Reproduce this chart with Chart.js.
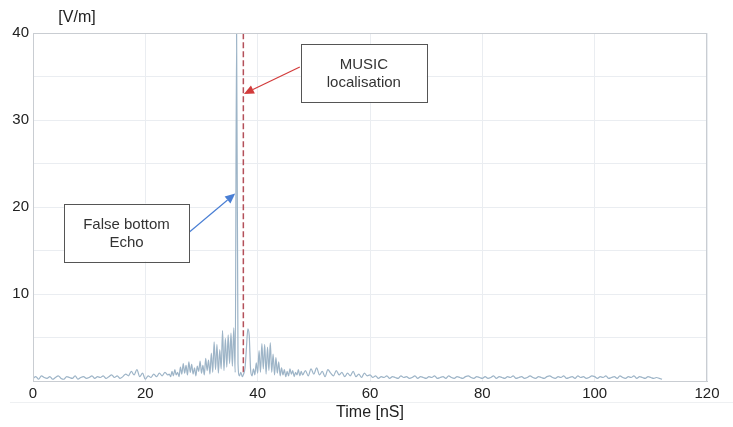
<!DOCTYPE html>
<html>
<head>
<meta charset="utf-8">
<script src="https://cdn.jsdelivr.net/npm/chart.js@4"></script>
<style>
    body { margin: 0; background: #fff; }
    #wrap { width: 733px; height: 427px; }
</style>
</head>
<body>
<div id="wrap"><canvas id="echoChart" width="733" height="427"></canvas></div>
<script>
// Field amplitude [V/m], three sampling zones
const earlyStart = 0, earlyStep = 0.5;
const earlyValues = [
    0.3,0.5,0.2,0.6,0.4,0.3,0.5,0.2,0.4,0.6,0.3,0.2,0.5,0.4,0.3,0.6,0.2,0.4,0.5,0.3,0.4,
    0.6,0.3,0.5,0.4,0.6,0.3,0.5,0.7,0.4,0.6,0.3,0.5,0.8,0.6,1.1,0.7,1.3,0.5,0.9,0.2,
    0.6,0.4,0.8,0.5,0.9,0.6,1.0,0.7
];

const echoStart = 24.25, echoStep = 0.25;
const echoValues = [
    0.8,0.5,1.1,0.6,1.3,0.7,1.0,0.5,
    1.6,0.8,2.0,0.9,1.8,0.7,2.2,1.0,
    1.9,0.8,1.5,0.6,1.7,1.1,2.3,0.9,
    1.8,0.7,2.6,1.2,2.4,0.8,3.2,1.0,
    4.5,1.3,4.2,0.9,3.6,1.4,5.8,1.2,
    4.9,1.6,5.3,2.0,5.5,1.7,6.1,1.0,
    40,2.0,0.6,1.0,0.5,0.8,1.5,3.8,
    6.0,5.2,1.2,0.6,1.4,0.7,2.1,0.9,
    3.5,1.0,4.3,1.4,4.2,0.8,3.9,1.2,
    4.4,1.0,3.1,0.7,2.7,0.9,2.2,0.6,
    1.5,0.7,1.3,0.5,1.1,0.6,1.4,0.8,
    1.2,0.5,1.0,0.7,1.3,0.6,1.1,0.7
];

const lateStart = 48.5, lateStep = 0.5;
const lateValues = [
    1.2,0.6,1.4,0.8,1.5,0.7,1.1,0.5,1.3,0.9,0.6,1.2,0.7,1.0,0.5,0.9,0.6,1.1,0.5,0.8,0.4,0.9,0.6,0.7,
    0.4,0.6,0.3,0.5,0.4,0.6,0.3,0.5,0.4,0.3,0.6,0.4,0.5,0.3,0.4,0.6,0.3,0.5,0.4,0.3,
    0.5,0.4,0.6,0.3,0.4,0.5,0.3,0.6,0.4,0.3,0.5,0.4,0.3,0.5,0.6,0.4,0.3,0.5,0.4,0.3,
    0.5,0.3,0.4,0.6,0.3,0.5,0.4,0.3,0.5,0.4,0.6,0.3,0.4,0.5,0.3,0.4,0.6,0.4,0.3,0.5,
    0.4,0.3,0.5,0.6,0.4,0.3,0.5,0.4,0.6,0.3,0.4,0.5,0.3,0.6,0.4,0.5,0.3,0.4,0.6,0.5,
    0.3,0.5,0.4,0.6,0.3,0.4,0.5,0.3,0.6,0.4,0.3,0.5,0.4,0.6,0.3,0.5,0.4,0.3,0.5,0.4,0.3,0.4,0.3,0.2
];

// MUSIC localisation time and its vertical extent
const musicTime = 37.45;
const musicRange = [1, 40];

const xTicks = [0, 20, 40, 60, 80, 100, 120];
const yLabels = [10, 20, 30, 40];

// Annotation boxes / arrows in data units
const notes = [
    { lines: ['MUSIC', 'localisation'], box: [47.7, 38.74, 70.1, 32.09],
      from: [47.5, 36.1], to: [37.55, 33.0], color: '#d23b3b' },
    { lines: ['False bottom', 'Echo'], box: [5.5, 20.4, 27.8, 13.75],
      from: [27.8, 17.1], to: [36.0, 21.55], color: '#4a7fd4' }
];

function zone(start, step, values) {
    return values.map((v, i) => ({ x: start + i * step, y: v }));
}

const trace = [
    ...zone(earlyStart, earlyStep, earlyValues),
    ...zone(echoStart, echoStep, echoValues),
    ...zone(lateStart, lateStep, lateValues)
];

const FONT = "'Liberation Sans', Arial, sans-serif";

function drawArrow(ctx, x1, y1, x2, y2, color) {
    const ang = Math.atan2(y2 - y1, x2 - x1);
    const len = 10, half = 4.5;
    const bx = x2 - len * Math.cos(ang), by = y2 - len * Math.sin(ang);
    ctx.strokeStyle = color;
    ctx.fillStyle = color;
    ctx.lineWidth = 1.2;
    ctx.beginPath();
    ctx.moveTo(x1, y1);
    ctx.lineTo(bx, by);
    ctx.stroke();
    ctx.beginPath();
    ctx.moveTo(x2, y2);
    ctx.lineTo(bx + half * Math.sin(ang), by - half * Math.cos(ang));
    ctx.lineTo(bx - half * Math.sin(ang), by + half * Math.cos(ang));
    ctx.closePath();
    ctx.fill();
}

const decorPlugin = {
    id: 'decor',
    afterDatasetsDraw(chart) {
        const { ctx, chartArea: a, scales: { x, y } } = chart;
        ctx.save();

        // frame (top + right edges)
        ctx.strokeStyle = '#c9cdd2';
        ctx.lineWidth = 1;
        ctx.strokeRect(a.left + 0.5, a.top + 0.5, a.right - a.left - 1, a.bottom - a.top);

        // faint rule under the axis
        ctx.strokeStyle = '#eef0f2';
        ctx.beginPath();
        ctx.moveTo(10, a.bottom + 21.5);
        ctx.lineTo(chart.width, a.bottom + 21.5);
        ctx.stroke();

        // unit label
        ctx.fillStyle = '#222';
        ctx.font = '16px ' + FONT;
        ctx.textAlign = 'center';
        ctx.textBaseline = 'middle';
        ctx.fillText('[V/m]', a.left + 44, a.top - 15);

        notes.forEach(n => {
            drawArrow(ctx, x.getPixelForValue(n.from[0]), y.getPixelForValue(n.from[1]),
                x.getPixelForValue(n.to[0]), y.getPixelForValue(n.to[1]), n.color);

            const l = x.getPixelForValue(n.box[0]), t = y.getPixelForValue(n.box[1]);
            const r = x.getPixelForValue(n.box[2]), b = y.getPixelForValue(n.box[3]);
            ctx.fillStyle = '#fff';
            ctx.fillRect(l, t, r - l, b - t);
            ctx.strokeStyle = '#555';
            ctx.lineWidth = 1;
            ctx.strokeRect(Math.round(l) + 0.5, Math.round(t) + 0.5, Math.round(r - l), Math.round(b - t));

            ctx.fillStyle = '#333';
            ctx.font = '15px ' + FONT;
            const cx = (l + r) / 2, cy = (t + b) / 2;
            ctx.fillText(n.lines[0], cx, cy - 8);
            ctx.fillText(n.lines[1], cx, cy + 10);
        });

        ctx.restore();
    }
};

new Chart(document.getElementById('echoChart'), {
    type: 'line',
    data: {
        datasets: [
            {
                data: trace,
                borderColor: '#9db4c7',
                borderWidth: 1.2,
                pointRadius: 0,
                cubicInterpolationMode: 'monotone'
            },
            {
                data: musicRange.map(v => ({ x: musicTime, y: v })),
                borderColor: '#b4505a',
                borderWidth: 1.5,
                borderDash: [6, 3],
                pointRadius: 0
            }
        ]
    },
    options: {
        responsive: false,
        animation: false,
        layout: { padding: { top: 33, right: 26, left: 0, bottom: 0 } },
        plugins: { legend: { display: false }, tooltip: { enabled: false } },
        scales: {
            x: {
                type: 'linear',
                min: xTicks[0],
                max: xTicks[xTicks.length - 1],
                afterBuildTicks: s => { s.ticks = xTicks.map(v => ({ value: v })); },
                afterFit: s => { s.height = 46; },
                grid: { color: '#eaedf1', drawTicks: false },
                border: { color: '#c9cdd2' },
                ticks: { color: '#222', padding: 4, font: { family: FONT, size: 15 } },
                title: {
                    display: true,
                    text: 'Time [nS]',
                    color: '#222',
                    font: { family: FONT, size: 16 },
                    padding: { top: 0, bottom: 5 }
                }
            },
            y: {
                min: 0,
                max: 40,
                afterFit: s => { s.width = 33; },
                grid: { color: '#eaedf1', drawTicks: false },
                border: { color: '#c9cdd2' },
                ticks: {
                    stepSize: 5,
                    color: '#222',
                    padding: 4,
                    font: { family: FONT, size: 15 },
                    callback: v => yLabels.includes(v) ? v : ''
                }
            }
        }
    },
    plugins: [decorPlugin]
});
</script>
</body>
</html>
